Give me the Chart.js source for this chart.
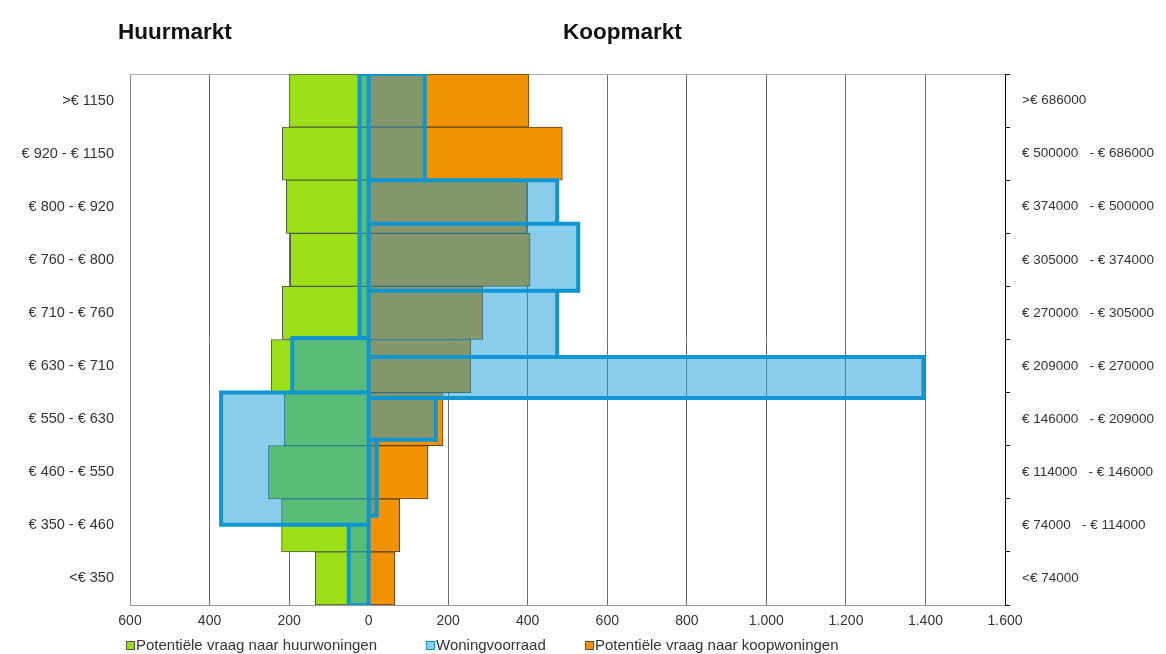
<!DOCTYPE html>
<html lang="nl">
<head>
<meta charset="utf-8">
<title>Huurmarkt en koopmarkt</title>
<script src="https://cdn.jsdelivr.net/npm/chart.js@4.4.1/dist/chart.umd.min.js"></script>
<style>
  html, body { margin: 0; padding: 0; background: #fff; }
  #wrap { position: relative; width: 1166px; height: 654px; overflow: hidden; font-family: "Liberation Sans", Arial, sans-serif; }
  #grafiek { position: absolute; left: 0; top: 0; }
  .kop { position: absolute; top: 19px; line-height: 26px; font-weight: bold; font-size: 22.5px; color: #111; white-space: nowrap; }
  #legenda { position: absolute; left: 0; top: 636px; width: 1166px; height: 18px; font-size: 15px; color: #333; }
  .item { position: absolute; top: 0; line-height: 18px; white-space: nowrap; }
  .vak { position: absolute; left: 0; top: 5px; width: 7px; height: 7px; border: 1px solid #555; box-sizing: content-box; }
  .tekst { position: absolute; left: 10px; top: 0; }
</style>
</head>
<body>
<div id="wrap">
  <canvas id="grafiek" width="1166" height="654"></canvas>
  <div class="kop" style="left:118px">Huurmarkt</div>
  <div class="kop" style="left:563px">Koopmarkt</div>
  <div id="legenda"></div>
</div>
<script>
// Prijsklassen, van boven naar beneden
const huurklassen = ['>€ 1150', '€ 920 - € 1150', '€ 800 - € 920', '€ 760 - € 800', '€ 710 - € 760',
                     '€ 630 - € 710', '€ 550 - € 630', '€ 460 - € 550', '€ 350 - € 460', '<€ 350'];
const koopklassen = ['>€ 686000', '€ 500000   - € 686000', '€ 374000   - € 500000', '€ 305000   - € 374000',
                     '€ 270000   - € 305000', '€ 209000   - € 270000', '€ 146000   - € 209000',
                     '€ 114000   - € 146000', '€ 74000   - € 114000', '<€ 74000'];

// Potentiële vraag per klasse (huur links, dus negatief)
const vraagHuur = [-200, -217, -207, -197, -217, -245, -212, -252, -219, -134];
const vraagKoop = [403, 487, 398, 406, 287, 257, 187, 149, 78, 66];

// Woningvoorraad in blokken; van/tot op de klassenas (10 = bovenkant, 0 = onderkant)
const voorraadHuur    = [-23, -192, -371, -50];
const voorraadHuurVan = [10, 5.03, 4.0, 1.51];
const voorraadHuurTot = [5.03, 4.0, 1.51, 0];
const voorraadKoop    = [141, 474, 527, 474, 1395, 169, 20];
const voorraadKoopVan = [10, 8.0, 7.18, 5.92, 4.67, 3.9, 3.11];
const voorraadKoopTot = [8.0, 7.18, 5.92, 4.67, 3.9, 3.11, 1.68];

// As-bereik en stapgrootte
const asMin = -600, asMax = 1600, asStap = 200;

// Legenda: plaats van elk item langs de onderrand
const legendaLinks = [126, 426, 585];

function blokken(waarden, van, tot) {
  const punten = [];
  waarden.forEach((w, i) => {
    punten.push({x: 0, y: van[i]}, {x: w, y: van[i]}, {x: w, y: tot[i]},
                {x: 0, y: tot[i]}, {x: 0, y: van[i]}, {x: null, y: null});
  });
  return punten;
}
const voorraadPunten = blokken(voorraadHuur, voorraadHuurVan, voorraadHuurTot)
  .concat(blokken(voorraadKoop, voorraadKoopVan, voorraadKoopTot));

function nlGetal(v) {
  return String(Math.abs(v)).replace(/\B(?=(\d{3})+(?!\d))/g, '.');
}

Chart.defaults.font.family = "'Liberation Sans', Arial, sans-serif";
Chart.defaults.color = '#333';

const grafiek = new Chart(document.getElementById('grafiek'), {
  type: 'bar',
  data: {
    labels: huurklassen,
    datasets: [
      {
        label: 'Potentiële vraag naar huurwoningen',
        data: vraagHuur,
        xAxisID: 'x', yAxisID: 'y',
        backgroundColor: '#9cde18',
        borderColor: '#4f5a44',
        borderWidth: 1,
        borderSkipped: false,
        barPercentage: 1, categoryPercentage: 1,
        grouped: false,
        order: 2
      },
      {
        type: 'line',
        label: 'Woningvoorraad',
        data: voorraadPunten,
        xAxisID: 'x', yAxisID: 'yl',
        borderColor: '#0f96d2',
        backgroundColor: 'rgba(22, 155, 215, 0.5)',
        borderWidth: 4,
        borderJoinStyle: 'miter',
        borderCapStyle: 'square',
        pointRadius: 0,
        pointHoverRadius: 0,
        tension: 0,
        spanGaps: false,
        fill: 'shape',
        order: 0
      },
      {
        label: 'Potentiële vraag naar koopwoningen',
        data: vraagKoop,
        xAxisID: 'x', yAxisID: 'y',
        backgroundColor: '#f29200',
        borderColor: '#5a4020',
        borderWidth: 1,
        borderSkipped: false,
        barPercentage: 1, categoryPercentage: 1,
        grouped: false,
        order: 1
      }
    ]
  },
  options: {
    indexAxis: 'y',
    responsive: false,
    animation: false,
    events: [],
    layout: { padding: 0 },
    scales: {
      x: {
        type: 'linear', position: 'bottom', min: asMin, max: asMax,
        ticks: { stepSize: asStap, callback: v => nlGetal(v), font: { size: 14 }, padding: 8, color: '#333' },
        grid: { color: '#6a6a6a', lineWidth: 1, drawTicks: false },
        border: { display: true, color: '#9a9a9a' },
        afterFit: s => { s.height = 49; }
      },
      xTop: {
        type: 'linear', position: 'top', min: asMin, max: asMax,
        ticks: { display: false },
        grid: { display: false, drawTicks: false },
        border: { display: true, color: '#b0b0b0' },
        afterFit: s => { s.height = 74; }
      },
      y: {
        type: 'category', position: 'left', labels: huurklassen, offset: true,
        grid: { display: false, drawTicks: false },
        border: { display: true, color: '#8a8a8a' },
        ticks: { font: { size: 14.5 }, padding: 16, autoSkip: false, color: '#333' },
        afterFit: s => { s.width = 130; }
      },
      y2: {
        type: 'category', position: 'right', labels: koopklassen, offset: true,
        grid: { display: true, drawOnChartArea: false, offset: true, tickLength: 5, color: '#000' },
        border: { display: true, color: '#000' },
        ticks: { font: { size: 13.5 }, padding: 12, autoSkip: false, color: '#333' },
        afterFit: s => { s.width = 161; }
      },
      yl: { type: 'linear', min: 0, max: 10, offset: false, display: false }
    },
    plugins: {
      legend: { display: false },
      tooltip: { enabled: false },
      filler: { propagate: false }
    }
  }
});

// Legenda opbouwen uit de datasets (volgorde: huur, voorraad, koop)
const legenda = document.getElementById('legenda');
grafiek.data.datasets.forEach((ds, i) => {
  const item = document.createElement('div');
  item.className = 'item';
  item.style.left = legendaLinks[i] + 'px';
  const vak = document.createElement('span');
  vak.className = 'vak';
  vak.style.background = ds.backgroundColor;
  if (ds.type === 'line') vak.style.borderColor = ds.borderColor;
  const tekst = document.createElement('span');
  tekst.className = 'tekst';
  tekst.textContent = ds.label;
  item.appendChild(vak);
  item.appendChild(tekst);
  legenda.appendChild(item);
});
</script>
</body>
</html>
